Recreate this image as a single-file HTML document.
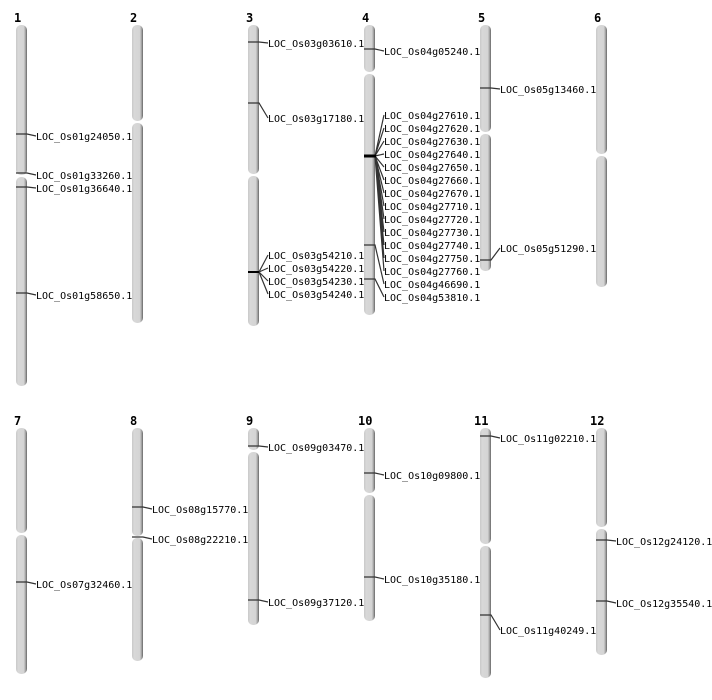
<!DOCTYPE html>
<html><head><meta charset="utf-8"><style>
html,body{margin:0;padding:0;background:#fff;}
svg{display:block;}
text{font-family:"DejaVu Sans Mono","Liberation Mono",monospace;font-size:10px;fill:#000;}
.n{font-family:"DejaVu Sans Mono","Liberation Mono",monospace;font-weight:bold;font-size:12px;}
.m{stroke:#333;stroke-width:1.2;fill:none;}
</style></head><body>
<svg width="712" height="700" viewBox="0 0 712 700" xmlns="http://www.w3.org/2000/svg">
<defs>
<linearGradient id="g" x1="0" x2="1" y1="0" y2="0">
<stop offset="0" stop-color="#c8c8c8"/><stop offset="0.2" stop-color="#d8d8d8"/><stop offset="0.7" stop-color="#d4d4d4"/><stop offset="0.85" stop-color="#aaa"/><stop offset="1" stop-color="#666"/>
</linearGradient>
</defs>
<g fill="url(#g)">
<rect x="16" y="25" width="11" height="150" rx="5"/><rect x="16" y="177" width="11" height="209" rx="5"/>
<rect x="132" y="25" width="11" height="96" rx="5"/><rect x="132" y="123" width="11" height="200" rx="5"/>
<rect x="248" y="25" width="11" height="149" rx="5"/><rect x="248" y="176" width="11" height="150" rx="5"/>
<rect x="364" y="25" width="11" height="47" rx="5"/><rect x="364" y="74" width="11" height="241" rx="5"/>
<rect x="480" y="25" width="11" height="107" rx="5"/><rect x="480" y="134" width="11" height="137" rx="5"/>
<rect x="596" y="25" width="11" height="129" rx="5"/><rect x="596" y="156" width="11" height="131" rx="5"/>
<rect x="16" y="428" width="11" height="105" rx="5"/><rect x="16" y="535" width="11" height="139" rx="5"/>
<rect x="132" y="428" width="11" height="108" rx="5"/><rect x="132" y="538" width="11" height="123" rx="5"/>
<rect x="248" y="428" width="11" height="22" rx="5"/><rect x="248" y="452" width="11" height="173" rx="5"/>
<rect x="364" y="428" width="11" height="65" rx="5"/><rect x="364" y="495" width="11" height="126" rx="5"/>
<rect x="480" y="428" width="11" height="116" rx="5"/><rect x="480" y="546" width="11" height="132" rx="5"/>
<rect x="596" y="428" width="11" height="99" rx="5"/><rect x="596" y="529" width="11" height="126" rx="5"/>
</g>
<g class="n">
<text class="n" x="14" y="22">1</text><text class="n" x="130" y="22">2</text><text class="n" x="246" y="22">3</text>
<text class="n" x="362" y="22">4</text><text class="n" x="478" y="22">5</text><text class="n" x="594" y="22">6</text>
<text class="n" x="14" y="425">7</text><text class="n" x="130" y="425">8</text><text class="n" x="246" y="425">9</text>
<text class="n" x="358" y="425">10</text><text class="n" x="474" y="425">11</text><text class="n" x="590" y="425">12</text>
</g>
<g class="m">
<path d="M16 134H27L36 136M16 173H27L36 175M16 187H27L36 188M16 293H27L36 295"/>
<path d="M132 507H143L152 509M132 537H143L152 539"/>
<path d="M16 582H27L36 584"/>
<path d="M248 42H259L268 43M248 103H259L268 118M248 446H259L268 447M248 600H259L268 602"/>
<path d="M259 272L268 255M259 272L268 268M259 272L268 281M259 272L268 294"/>
<path d="M364 49H375L384 51M364 245H375L384 284M364 279H375L384 297M364 473H375L384 475M364 577H375L384 579"/>
<path d="M480 88H491L500 89M480 260H491L500 248M480 436H491L500 438M480 615H491L500 630"/>
<path d="M596 540H607L616 541M596 601H607L616 603"/>
<path d="M375 156L384 115M375 156L384 128M375 156L384 141M375 156L384 154M375 156L384 167M375 156L384 180M375 156L384 193M375 156L384 206M375 156L384 219M375 156L384 232M375 156L384 245M375 156L384 258M375 156L384 271"/>
</g>
<path d="M364 156H376" stroke="#000" stroke-width="3"/>
<path d="M248 272H259" stroke="#000" stroke-width="2"/>
<g>
<text x="36" y="140">LOC_Os01g24050.1</text><text x="36" y="179">LOC_Os01g33260.1</text>
<text x="36" y="192">LOC_Os01g36640.1</text><text x="36" y="299">LOC_Os01g58650.1</text>
<text x="268" y="47">LOC_Os03g03610.1</text><text x="268" y="122">LOC_Os03g17180.1</text>
<text x="268" y="259">LOC_Os03g54210.1</text><text x="268" y="272">LOC_Os03g54220.1</text>
<text x="268" y="285">LOC_Os03g54230.1</text><text x="268" y="298">LOC_Os03g54240.1</text>
<text x="384" y="55">LOC_Os04g05240.1</text>
<text x="384" y="119">LOC_Os04g27610.1</text><text x="384" y="132">LOC_Os04g27620.1</text>
<text x="384" y="145">LOC_Os04g27630.1</text><text x="384" y="158">LOC_Os04g27640.1</text>
<text x="384" y="171">LOC_Os04g27650.1</text><text x="384" y="184">LOC_Os04g27660.1</text>
<text x="384" y="197">LOC_Os04g27670.1</text><text x="384" y="210">LOC_Os04g27710.1</text>
<text x="384" y="223">LOC_Os04g27720.1</text><text x="384" y="236">LOC_Os04g27730.1</text>
<text x="384" y="249">LOC_Os04g27740.1</text><text x="384" y="262">LOC_Os04g27750.1</text>
<text x="384" y="275">LOC_Os04g27760.1</text><text x="384" y="288">LOC_Os04g46690.1</text>
<text x="384" y="301">LOC_Os04g53810.1</text>
<text x="500" y="93">LOC_Os05g13460.1</text><text x="500" y="252">LOC_Os05g51290.1</text>
<text x="36" y="588">LOC_Os07g32460.1</text>
<text x="152" y="513">LOC_Os08g15770.1</text><text x="152" y="543">LOC_Os08g22210.1</text>
<text x="268" y="451">LOC_Os09g03470.1</text><text x="268" y="606">LOC_Os09g37120.1</text>
<text x="384" y="479">LOC_Os10g09800.1</text><text x="384" y="583">LOC_Os10g35180.1</text>
<text x="500" y="442">LOC_Os11g02210.1</text><text x="500" y="634">LOC_Os11g40249.1</text>
<text x="616" y="545">LOC_Os12g24120.1</text><text x="616" y="607">LOC_Os12g35540.1</text>
</g>
</svg>
</body></html>
